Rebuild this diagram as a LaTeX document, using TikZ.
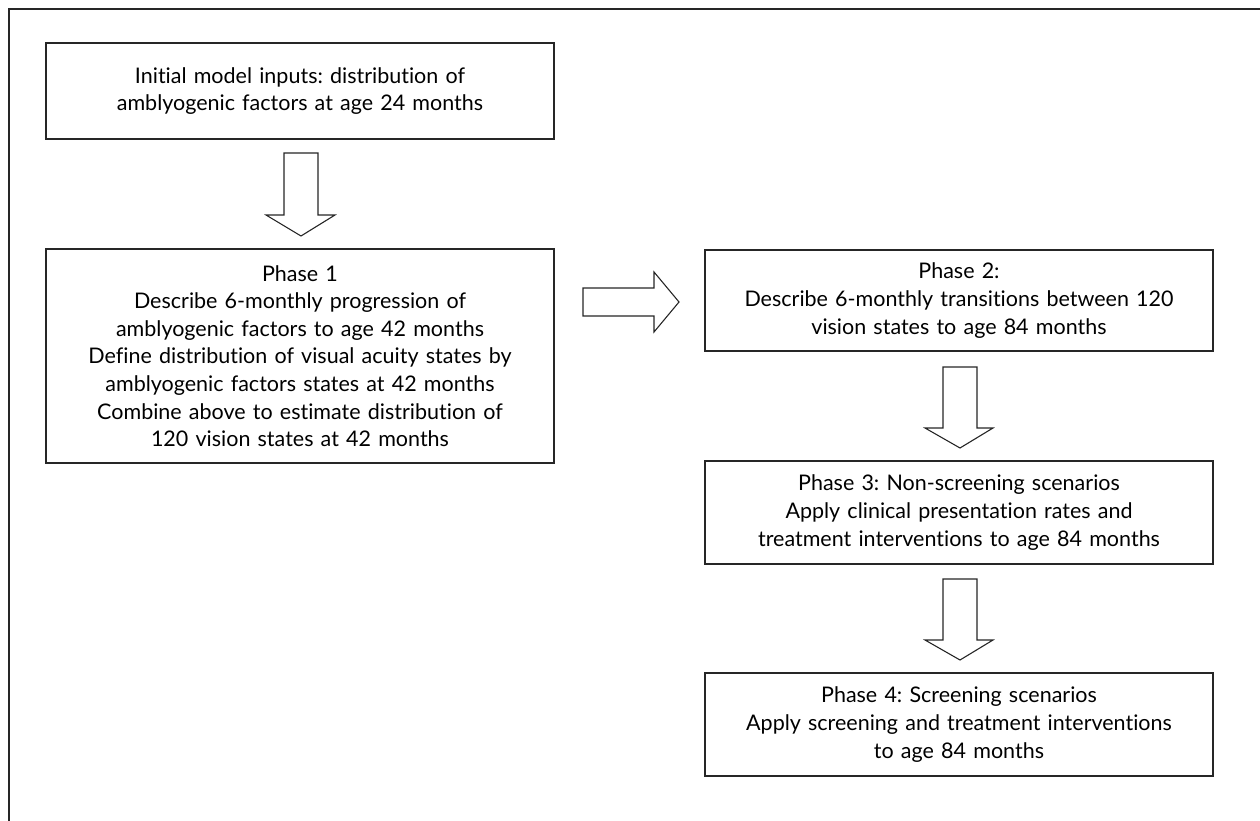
\documentclass[tikz,border=0pt]{standalone}
\usepackage{fontspec}
\setmainfont{Lato}[RawFeature={-liga,-dlig}]
\frenchspacing
\begin{document}
\begin{tikzpicture}[x=1pt,y=-1pt,
  box/.style={draw=black!85, line width=1.3pt, minimum width=508pt, align=center, text width=500pt, inner sep=0pt,
    font=\fontsize{21.5}{27.6}\selectfont},
  blockarrow/.style={draw=black!85, line width=1.1pt, fill=white, line join=miter}]
\useasboundingbox (0,0) rectangle (1260,821);
\draw[line width=1.6pt, black!85] (1260,9) -- (9,9) -- (9,821);
\node[box, minimum height=96pt] (a) at (300,91) {Initial model inputs: distribution of\\amblyogenic factors at age 24 months};
\node[box, minimum height=214pt] (p1) at (300,356) {Phase 1\\Describe 6-monthly progression of\\amblyogenic factors to age 42 months\\Define distribution of visual acuity states by\\amblyogenic factors states at 42 months\\Combine above to estimate distribution of\\120 vision states at 42 months};
\node[box, minimum height=101pt] (p2) at (959,300.5) {Phase 2:\\Describe 6-monthly transitions between 120\\vision states to age 84 months};
\node[box, minimum height=103pt] (p3) at (959,512.5) {Phase 3: Non-screening scenarios\\Apply clinical presentation rates and\\treatment interventions to age 84 months};
\node[box, minimum height=103pt] (p4) at (959,724.5) {Phase 4: Screening scenarios\\Apply screening and treatment interventions\\to age 84 months};
% block arrows
\draw[blockarrow] (284,153) -- (318,153) -- (318,215) -- (335,215) -- (301,236) -- (266,215) -- (284,215) -- cycle;
\draw[blockarrow] (583,288) -- (654,288) -- (654,272) -- (679,302) -- (654,332) -- (654,316) -- (583,316) -- cycle;
\draw[blockarrow] (943,367) -- (977,367) -- (977,428) -- (993,428) -- (960,448) -- (925,428) -- (943,428) -- cycle;
\draw[blockarrow] (943,579) -- (977,579) -- (977,640) -- (993,640) -- (960,660) -- (925,640) -- (943,640) -- cycle;
\end{tikzpicture}
\end{document}
